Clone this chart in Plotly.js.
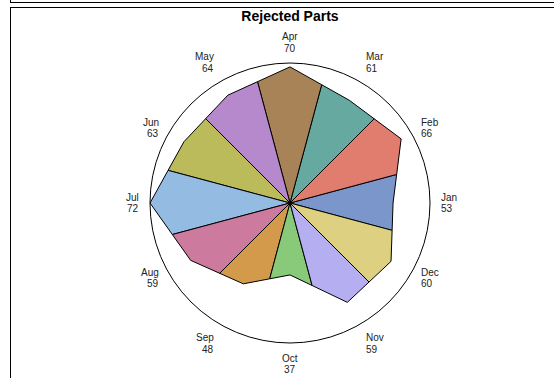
<!DOCTYPE html>
<html>
<head>
<meta charset="utf-8">
<script src="https://cdn.plot.ly/plotly-3.0.1.min.js"></script>
<style>
  html, body { margin: 0; padding: 0; background: #fff; }
  #wrap { position: relative; width: 554px; height: 378px; overflow: hidden; }
  #chart { position: absolute; left: 0; top: 0; width: 554px; height: 378px; }
  .ln { position: absolute; background: #000; }
</style>
</head>
<body>
<div id="wrap">
  <div id="chart"></div>
  <div class="ln" style="left:10px; top:2px; width:544px; height:1px;"></div>
  <div class="ln" style="left:10px; top:0px; width:1px; height:3px;"></div>
  <div class="ln" style="left:10px; top:7px; width:544px; height:1px;"></div>
  <div class="ln" style="left:10px; top:7px; width:1px; height:371px;"></div>
</div>
<script>
const months = ['Jan','Feb','Mar','Apr','May','Jun','Jul','Aug','Sep','Oct','Nov','Dec'];
const values = [53, 66, 61, 70, 64, 63, 72, 59, 48, 37, 59, 60];
const colors = ['#7b96cb','#e07d6e','#66a9a1','#a98358','#b589cc','#bbbb5b',
                '#94bbe2','#cc7a9e','#d39a4b','#88c97a','#b5aef0','#ddd181'];

const W = 554, H = 378;
const n = months.length;
const step = 360 / n;
const half = step / 2;
const cosHalf = Math.cos(half * Math.PI / 180);
// radius where the star edge between two spokes crosses the bisecting ray
function bisect(a, b) { return 2 * a * b * cosHalf / (a + b); }

const traces = [];
for (let i = 0; i < n; i++) {
  const v = values[i];
  const prev = values[(i + n - 1) % n];
  const next = values[(i + 1) % n];
  const th = i * step;
  traces.push({
    type: 'scatterpolar',
    mode: 'lines',
    r: [0, bisect(v, prev), v, bisect(v, next), 0],
    theta: [th - half, th - half, th, th + half, th + half],
    fill: 'toself',
    fillcolor: colors[i],
    line: { color: '#000', width: 1 },
    hoverinfo: 'skip',
    showlegend: false
  });
}

const domX = [150 / W, 430 / W];
const domY = [35 / H, 315 / H];
const cx = (domX[0] + domX[1]) / 2 * W;          // px from left
const cy = H - (domY[0] + domY[1]) / 2 * H;      // px from top
const labelR = 150;                               // px
const labelFont = { family: 'Liberation Sans, Arial, sans-serif', size: 10, color: '#222' };

const annotations = [];
months.forEach((m, i) => {
  const a = i * step * Math.PI / 180;
  const c = Math.cos(a), s = Math.sin(a);
  const px = cx + labelR * c, py = cy - labelR * s;
  const xanchor = c > 0.1 ? 'left' : (c < -0.1 ? 'right' : 'center');
  let offName, offVal;
  if (s >= 0.6) { offName = -16.5; offVal = -5; }
  else if (s <= -0.6) { offName = 5; offVal = 16.5; }
  else { offName = -5.75; offVal = 5.75; }
  [[m, offName], [String(values[i]), offVal]].forEach(([txt, off]) => {
    annotations.push({
      xref: 'paper', yref: 'paper',
      x: px / W, y: 1 - py / H,
      xanchor: xanchor, yanchor: 'middle',
      yshift: -off,
      text: txt, showarrow: false,
      font: labelFont, borderpad: 0
    });
  });
});

const layout = {
  width: W, height: H,
  margin: { l: 0, r: 0, t: 0, b: 0 },
  paper_bgcolor: '#fff',
  showlegend: false,
  title: {
    text: '<b>Rejected Parts</b>',
    x: 290 / W, xanchor: 'center',
    y: 1 - 16 / H, yanchor: 'middle',
    font: { family: 'Liberation Sans, Arial, sans-serif', size: 14, color: '#000' }
  },
  annotations: annotations,
  polar: {
    domain: { x: domX, y: domY },
    bgcolor: 'rgba(0,0,0,0)',
    radialaxis: { range: [0, Math.max(...values)], visible: false, showgrid: false },
    angularaxis: {
      direction: 'counterclockwise',
      rotation: 0,
      showticklabels: false,
      ticks: '',
      showgrid: false,
      showline: true, linecolor: '#000', linewidth: 1
    }
  }
};

Plotly.newPlot('chart', traces, layout, { staticPlot: true, displayModeBar: false });
</script>
</body>
</html>
